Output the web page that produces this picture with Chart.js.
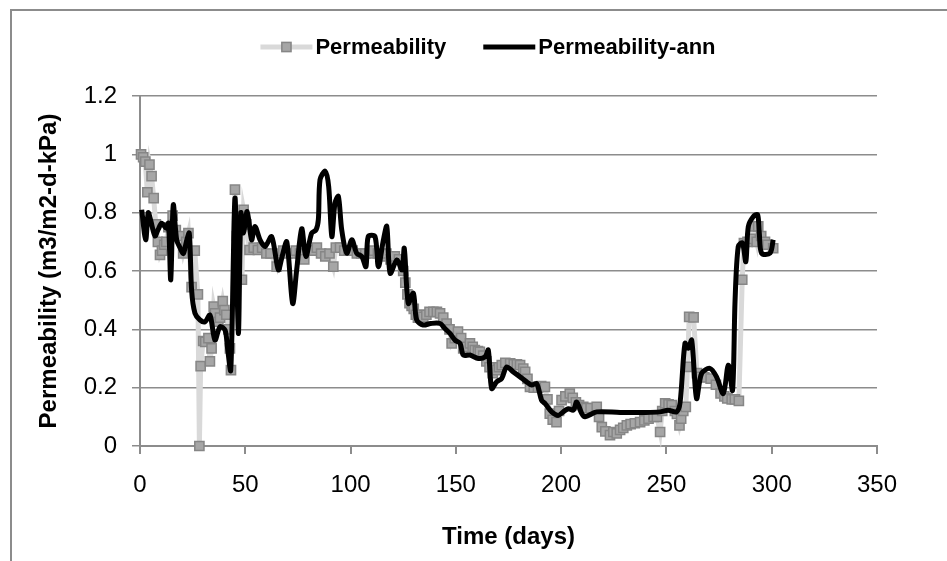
<!DOCTYPE html>
<html>
<head>
<meta charset="utf-8">
<script src="https://cdn.jsdelivr.net/npm/chart.js@4.4.1/dist/chart.umd.min.js"></script>
<style>
  html, body { margin: 0; padding: 0; background: #fff; overflow: hidden; }
  #wrap { position: relative; width: 947px; height: 561px; overflow: hidden; }
  #frame { position: absolute; left: 10px; top: 9px; width: 1000px; height: 600px;
           border-left: 2px solid #8c8c8c; border-top: 2px solid #8c8c8c; }
  canvas { position: absolute; left: 0; top: 0; }
</style>
</head>
<body>
<div id="wrap">
  <div id="frame"></div>
  <canvas id="permChart" width="947" height="561"></canvas>
</div>
<script>
// measured permeability (days / value)
const permDays = [0.5, 1.5, 2.5, 3.5, 4.5, 5.5, 6.5, 7.5, 8.5, 9.5, 10.5, 11.5, 12.5, 13.5, 15.5, 17, 19, 20.5, 22, 23,
  24.5, 26, 27.5, 28.2, 28.8, 30, 31, 32.5, 33.2, 34, 35, 35.6, 37.2, 38, 39.3, 40.1, 41, 42, 42.7, 43.2,
  45.1, 46, 47, 48.4, 49.2, 50.5, 52, 54, 56, 58, 60, 62, 64.9, 66, 68, 70, 72, 74, 76, 78,
  80, 82, 84, 86, 88, 90, 91.8, 93, 95, 97, 99, 101, 103, 105, 107, 109, 111, 113, 115, 117,
  119, 121, 123, 125, 126, 127, 128, 129, 130, 131, 132, 133, 134.5, 136, 137.5, 139.3, 141, 142.5, 144, 145.6,
  147, 148, 149.5, 151, 152.5, 153.5, 155, 156.7, 158, 159, 160.5, 161.4, 163, 164.5, 166, 167.5, 169.4, 170.5, 171.8, 173.5,
  175.8, 177.5, 179, 180.5, 182, 182.9, 184, 185.2, 187, 189, 190.5, 192.3, 193.5, 194.6, 196, 197.8, 199, 200.2, 202, 204.1,
  205.5, 207, 208.5, 210.5, 212, 214, 216.9, 218, 219.3, 221, 223.2, 224.8, 226.4, 228, 229.5, 231.2, 233, 235, 237.5, 239.5,
  241.5, 243.9, 245.5, 247, 248, 249.4, 251, 252.5, 254, 255, 256.2, 257, 258, 259.2, 260, 260.8, 262.9, 264.5, 266.2, 268,
  271, 273.5, 275.7, 277.5, 278.9, 281, 282.5, 284.4, 286, 286.8, 288.5, 290, 291.3, 292.9, 293.6, 295, 296.8, 298, 300.7];
const permValues = [1.00, 0.99, 0.975, 0.87, 0.965, 0.925, 0.85, 0.76, 0.70, 0.655, 0.67, 0.69, 0.70, 0.75, 0.79, 0.74, 0.72, 0.66, 0.70, 0.73,
  0.545, 0.67, 0.52, 0.0, 0.274, 0.36, 0.357, 0.37, 0.29, 0.335, 0.478, 0.455, 0.426, 0.44, 0.497, 0.466, 0.45, 0.40, 0.335, 0.26,
  0.879, 0.72, 0.78, 0.57, 0.81, 0.76, 0.672, 0.68, 0.672, 0.68, 0.66, 0.66, 0.615, 0.66, 0.67, 0.66, 0.66, 0.67, 0.66, 0.64,
  0.67, 0.67, 0.68, 0.66, 0.65, 0.66, 0.615, 0.68, 0.68, 0.67, 0.67, 0.67, 0.66, 0.66, 0.66, 0.66, 0.67, 0.66, 0.65, 0.66,
  0.64, 0.65, 0.64, 0.60, 0.56, 0.52, 0.49, 0.48, 0.47, 0.45, 0.44, 0.45, 0.443, 0.45, 0.46, 0.46, 0.46, 0.455, 0.44, 0.42,
  0.40, 0.352, 0.37, 0.392, 0.37, 0.335, 0.34, 0.352, 0.34, 0.329, 0.325, 0.323, 0.31, 0.29, 0.27, 0.25, 0.26, 0.27, 0.277, 0.285,
  0.283, 0.28, 0.28, 0.277, 0.265, 0.254, 0.23, 0.203, 0.20, 0.20, 0.205, 0.203, 0.16, 0.111, 0.09, 0.082, 0.12, 0.157, 0.17, 0.18,
  0.165, 0.15, 0.14, 0.134, 0.13, 0.13, 0.134, 0.10, 0.065, 0.05, 0.037, 0.048, 0.043, 0.055, 0.062, 0.071, 0.075, 0.078, 0.082, 0.088,
  0.094, 0.10, 0.10, 0.048, 0.12, 0.146, 0.143, 0.14, 0.12, 0.11, 0.071, 0.094, 0.12, 0.134, 0.271, 0.443, 0.441, 0.25, 0.237, 0.235,
  0.231, 0.21, 0.18, 0.17, 0.163, 0.16, 0.16, 0.155, 0.57, 0.696, 0.70, 0.71, 0.753, 0.70, 0.753, 0.72, 0.70, 0.69, 0.678];

// ann model output (days / value)
const annDays = [0.8, 2.7, 3.9, 5, 7.1, 8.5, 10.3, 12.4, 13.5, 14.6, 15.8, 17.4, 19, 20.6, 22, 23.4, 24.5, 26.1, 28.5, 30.9,
  33.2, 35.6, 38, 40.4, 41.5, 43.1, 45.1, 46.7, 47.9, 49.1, 50.9, 53, 54.6, 57, 59.4, 62.5, 65.7, 67.5, 69.7, 72.5,
  74.4, 76.8, 78.8, 81.5, 83.6, 84.7, 85.5, 87.9, 89.6, 91.1, 92.6, 94.2, 95.8, 98.2, 100.6, 102.9, 105.3, 107.3, 108.4, 111.6,
  113.2, 115.6, 117.2, 118.8, 122, 124.4, 125.5, 127.4, 129.8, 131.4, 134.5, 138, 142.5, 144.8, 147.2, 149.6, 152, 153.5, 156.7, 160.7,
  163.9, 165.4, 167, 169.4, 171.8, 174.1, 177.3, 180.5, 183.6, 186, 188.4, 190.7, 192.3, 195.5, 198.6, 201, 203.4, 205.8, 207.4, 209.8,
  211.3, 216.9, 228, 240, 246.9, 250.8, 254.8, 256.5, 258.8, 260.4, 262, 264.3, 266.7, 270.6, 273.8, 277, 279.4, 281.4, 282.6, 284.1,
  286.1, 287.7, 288.9, 291.3, 293.3, 294.1, 295.2, 299.2, 300.7];
const annValues = [0.81, 0.707, 0.80, 0.776, 0.72, 0.74, 0.764, 0.747, 0.764, 0.57, 0.827, 0.707, 0.68, 0.66, 0.70, 0.73, 0.535, 0.455, 0.432, 0.426,
  0.449, 0.363, 0.409, 0.397, 0.34, 0.26, 0.85, 0.386, 0.799, 0.73, 0.804, 0.707, 0.753, 0.707, 0.684, 0.718, 0.604, 0.65, 0.70, 0.489,
  0.604, 0.745, 0.65, 0.73, 0.741, 0.776, 0.913, 0.942, 0.89, 0.718, 0.833, 0.856, 0.741, 0.661, 0.707, 0.661, 0.65, 0.615, 0.718, 0.718,
  0.615, 0.707, 0.753, 0.592, 0.638, 0.604, 0.678, 0.489, 0.524, 0.432, 0.415, 0.42, 0.42, 0.403, 0.386, 0.363, 0.352, 0.312, 0.312, 0.30,
  0.306, 0.329, 0.197, 0.22, 0.232, 0.271, 0.254, 0.237, 0.22, 0.209, 0.214, 0.157, 0.146, 0.117, 0.105, 0.117, 0.128, 0.123, 0.151, 0.111,
  0.10, 0.117, 0.115, 0.115, 0.117, 0.123, 0.117, 0.15, 0.352, 0.335, 0.363, 0.163, 0.249, 0.266, 0.237, 0.18, 0.277, 0.191, 0.50, 0.684,
  0.696, 0.632, 0.753, 0.787, 0.793, 0.73, 0.661, 0.661, 0.707];

const xTicks = [0, 50, 100, 150, 200, 250, 300, 350];
const yTicks = [0, 0.2, 0.4, 0.6, 0.8, 1, 1.2];

const family = '"Liberation Sans", Arial, sans-serif';
const gridColor = '#8c8c8c';

// Excel-style legend: line sample with marker, label right next to it
const excelLegend = {
  id: 'excelLegend',
  afterDraw(chart) {
    const { ctx } = chart;
    const sample = 52, textGap = 3, itemGap = 37, cy = 47, cx = 488;
    ctx.save();
    ctx.font = 'bold 22px ' + family;
    const items = chart.data.datasets.map(ds => ({ ds, w: sample + textGap + ctx.measureText(ds.label).width }));
    let x = cx - (items.reduce((s, it) => s + it.w, 0) + itemGap * (items.length - 1)) / 2;
    items.forEach(({ ds, w }) => {
      ctx.strokeStyle = ds.borderColor;
      ctx.lineWidth = ds.borderWidth;
      ctx.beginPath();
      ctx.moveTo(x, cy);
      ctx.lineTo(x + sample, cy);
      ctx.stroke();
      if (ds.pointRadius > 0) {
        const side = ds.pointRadius * Math.SQRT2;
        ctx.fillStyle = ds.pointBackgroundColor;
        ctx.strokeStyle = ds.pointBorderColor;
        ctx.lineWidth = ds.pointBorderWidth;
        ctx.fillRect(x + sample / 2 - side / 2, cy - side / 2, side, side);
        ctx.strokeRect(x + sample / 2 - side / 2, cy - side / 2, side, side);
      }
      ctx.fillStyle = '#000';
      ctx.textAlign = 'left';
      ctx.textBaseline = 'middle';
      ctx.fillText(ds.label, x + sample + textGap, cy + 1);
      x += w + itemGap;
    });
    ctx.restore();
  }
};

new Chart(document.getElementById('permChart'), {
  type: 'line',
  data: {
    datasets: [
      {
        label: 'Permeability',
        data: permDays.map((d, i) => ({ x: d, y: permValues[i] })),
        borderColor: '#d9d9d9',
        borderWidth: 5,
        pointStyle: 'rect',
        pointRadius: 6.5,
        pointBackgroundColor: '#a6a6a6',
        pointBorderColor: '#868686',
        pointBorderWidth: 1.5,
        tension: 0,
        order: 2,
        clip: false
      },
      {
        label: 'Permeability-ann',
        data: annDays.map((d, i) => ({ x: d, y: annValues[i] })),
        borderColor: '#000000',
        borderWidth: 5,
        pointRadius: 0,
        tension: 0.3,
        order: 1,
        clip: false
      }
    ]
  },
  options: {
    responsive: false,
    animation: false,
    events: [],
    layout: { padding: { top: 96, right: 70, bottom: 0, left: 0 } },
    plugins: { legend: { display: false }, tooltip: { enabled: false } },
    scales: {
      x: {
        type: 'linear',
        min: 0,
        max: 350,
        afterBuildTicks: scale => { scale.ticks = xTicks.map(v => ({ value: v })); },
        afterFit: scale => { scale.height = 115; },
        grid: { drawOnChartArea: false, drawTicks: true, tickLength: 8, color: gridColor, lineWidth: 2 },
        border: { color: gridColor, width: 2 },
        ticks: { padding: 17, color: '#000', font: { family, size: 24 } },
        title: {
          display: true, text: 'Time (days)', color: '#000',
          font: { family, size: 24, weight: 'bold' }, padding: { top: 0, bottom: 9 }
        }
      },
      y: {
        min: 0,
        max: 1.2,
        afterBuildTicks: scale => { scale.ticks = yTicks.map(v => ({ value: v })); },
        afterFit: scale => { scale.width = 140; },
        grid: { drawTicks: true, tickLength: 8, color: gridColor, lineWidth: 1.5 },
        border: { color: gridColor, width: 2 },
        ticks: {
          padding: 15, color: '#000', font: { family, size: 24 },
          callback: v => String(Math.round(v * 10) / 10)
        },
        title: {
          display: true, text: 'Permeability (m3/m2-d-kPa)', color: '#000',
          font: { family, size: 24, weight: 'bold' }, padding: { top: 35, bottom: 0 }
        }
      }
    }
  },
  plugins: [excelLegend]
});
</script>
</body>
</html>
